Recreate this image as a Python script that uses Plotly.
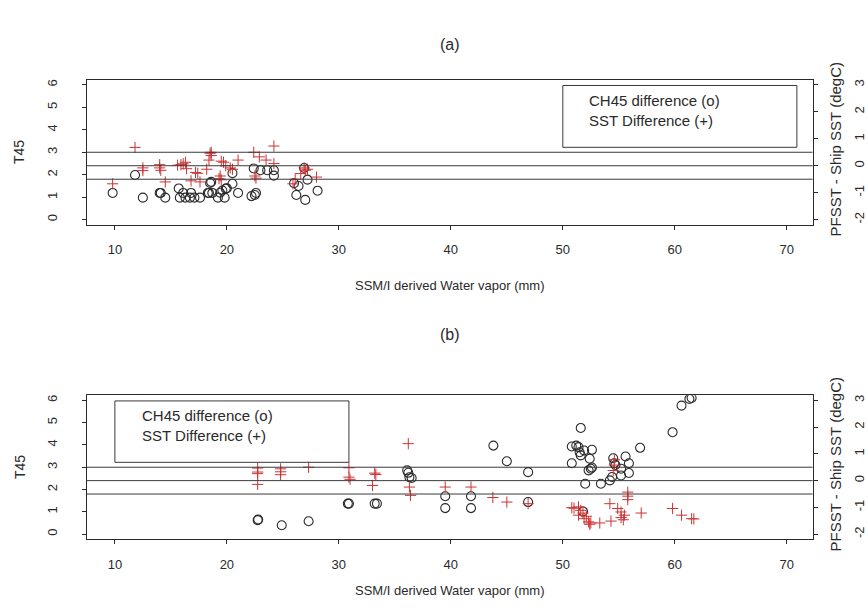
import plotly.graph_objects as go

# ---------------- data ----------------
# Panel (a)
a_ch45_wv = [9.8, 11.8, 12.5, 14.0, 14.1, 14.5, 15.7, 15.8, 16.1, 16.3, 16.7, 16.8, 17.1, 17.6,
             18.3, 18.4, 18.5, 18.6, 18.7, 19.2, 19.4, 19.6, 19.8, 19.9, 20.0, 20.5, 20.5, 21.0,
             22.2, 22.5, 22.6, 22.4, 23.0, 23.6, 24.2, 24.2, 26.0, 26.2, 26.4, 26.9, 27.0, 27.2, 28.1]
a_ch45_t45 = [1.19, 1.99, 0.98, 1.19, 1.19, 0.98, 1.39, 0.98, 1.19, 0.98, 0.98, 1.19, 0.98, 0.98,
              1.19, 1.19, 1.63, 1.68, 1.19, 0.98, 1.20, 1.30, 0.98, 1.38, 1.40, 2.07, 1.60, 1.19,
              1.05, 1.10, 1.19, 2.28, 2.20, 2.20, 2.20, 1.96, 1.62, 1.10, 1.50, 2.30, 0.88, 1.78, 1.29]
a_sst_wv = [9.8, 11.8, 12.5, 12.5, 14.0, 14.0, 14.1, 14.5, 15.6, 15.9, 16.1, 16.3, 16.4, 16.8,
            17.2, 17.4, 17.6, 18.2, 18.4, 18.5, 18.6, 18.6, 19.3, 19.4, 19.5, 19.5, 19.7, 19.9,
            20.3, 20.5, 21.0, 22.4, 22.5, 22.6, 22.9, 23.5, 24.2, 24.2, 25.9, 26.1, 26.6, 26.9,
            27.0, 27.2, 28.0]
a_sst_diff = [-0.67, 0.68, -0.18, -0.08, 0.04, -0.08, -0.17, -0.60, 0.02, 0.04, 0.07, 0.13, -0.11, -0.56,
              -0.25, -0.28, -0.60, -0.13, 0.21, 0.46, 0.50, 0.38, -0.48, -0.38, -0.52, 0.17, 0.13, 0.00,
              -0.08, -0.13, 0.21, 0.50, -0.38, -0.46, 0.33, 0.21, 0.73, 0.08, -0.67, -0.50, -0.29, -0.08,
              -0.17, -0.13, -0.42]

# Panel (b)
b_ch45_wv = [22.75, 22.8, 24.9, 27.3, 30.8, 30.9, 33.2, 33.4, 36.1, 36.2, 36.3, 36.5,
             39.5, 39.5, 41.8, 41.8, 43.8, 45.0, 46.9, 46.9,
             50.8, 51.2, 51.4, 51.6, 51.5, 51.9, 51.6, 52.4, 52.6, 50.8, 52.3, 52.5, 52.6,
             52.0, 53.4, 54.2, 54.4, 54.5, 54.6, 54.7, 55.2, 55.2, 55.6, 55.9, 55.9, 56.9,
             59.8, 60.6, 61.3, 61.5, 51.8]
b_ch45_t45 = [0.63, 0.66, 0.40, 0.58, 1.37, 1.37, 1.37, 1.37, 2.86, 2.75, 2.55, 2.52,
              1.70, 1.17, 1.70, 1.17, 3.97, 3.27, 2.78, 1.44,
              3.93, 3.97, 3.90, 4.76, 3.67, 3.75, 3.53, 3.38, 3.78, 3.18, 2.86, 2.93, 2.99,
              2.26, 2.26, 2.41, 2.56, 3.40, 3.18, 3.10, 2.63, 2.93, 3.48, 3.18, 2.74, 3.87,
              4.57, 5.76, 6.06, 6.10, 1.02]
b_sst_wv = [22.75, 22.75, 22.75, 22.75, 24.8, 24.8, 24.8, 27.3, 30.9, 30.9, 31.0,
            33.2, 33.3, 33.0, 36.2, 36.3, 36.4, 39.5, 41.8, 43.75, 45.0, 46.9,
            50.8, 51.0, 51.4, 51.6, 51.4, 51.8, 51.9, 52.1, 52.3, 52.4, 52.5, 53.3,
            54.2, 54.3, 54.6, 54.5, 54.6, 54.9, 55.2, 55.4, 55.5, 55.2,
            55.8, 55.8, 55.8, 57.0, 59.8, 60.6, 61.5, 61.7]
b_sst_diff = [0.47, 0.32, 0.26, -0.14, 0.44, 0.33, 0.22, 0.50, 0.48, 0.13, 0.05,
              0.28, 0.23, -0.18, 1.38, -0.24, -0.55, -0.24, -0.24, -0.63, -0.80, -0.86,
              -1.01, -1.03, -0.98, -1.11, -1.29, -1.21, -1.42, -1.33, -1.54, -1.63, -1.58, -1.58,
              -0.86, -1.51, 0.78, 0.38, 0.58, -1.04, -1.17, -1.46, -1.29, -1.38,
              -0.43, -0.58, -0.71, -1.21, -1.04, -1.29, -1.42, -1.43]

ref_lines = [-0.5, 0.0, 0.5]          # SST difference reference lines
x_ticks = [10, 20, 30, 40, 50, 60, 70]
t45_ticks = [0, 1, 2, 3, 4, 5, 6]
sst_ticks = [-2, -1, 0, 1, 2, 3]
sst_ticktext = ["-2", "-1", "0", "1", "2", "3"]
panel_titles = ["(a)", "(b)"]
legend_lines = ["CH45 difference (o)", "SST Difference (+)"]
legend_x = [50, 10]                    # legend box left edge (water vapor units)

# ---------------- layout helpers ----------------
W, H = 867, 608
FONT = "Liberation Sans, Arial, Helvetica, sans-serif"
INK = "#2a2a2a"
RED = "#cc3333"

def px(x):
    return x / W

def py(y):
    return 1 - y / H

XL, XR = 88, 823
panels = [dict(top=79, bottom=224, title_y=44, xlab_y=285),
          dict(top=395, bottom=539, title_y=334, xlab_y=590)]

y_range = [-0.22, 6.22]
y2_range = [-2 + v * 5 / 6 for v in y_range]
x_range = [7.5, 72.3]

fig = go.Figure()

series = [(a_ch45_wv, a_ch45_t45, a_sst_wv, a_sst_diff),
          (b_ch45_wv, b_ch45_t45, b_sst_wv, b_sst_diff)]

layout = dict(width=W, height=H, margin=dict(l=0, r=0, t=0, b=0),
              paper_bgcolor="white", plot_bgcolor="white", showlegend=False,
              font=dict(family=FONT, color=INK, size=13))
shapes = []
annotations = []

for i, (p, (cw, ct, sw, sd)) in enumerate(zip(panels, series)):
    xn = "x" if i == 0 else "x2"
    yl = "y" if i == 0 else "y3"
    yr = "y2" if i == 0 else "y4"
    xk = "xaxis" if i == 0 else "xaxis2"
    ylk = "yaxis" if i == 0 else "yaxis3"
    yrk = "yaxis2" if i == 0 else "yaxis4"
    ydom = [py(p["bottom"]), py(p["top"])]

    layout[xk] = dict(domain=[px(XL), px(XR)], anchor=yl, range=x_range,
                      tickvals=x_ticks, ticks="outside", ticklen=4, tickcolor=INK,
                      showline=True, linecolor=INK, linewidth=1, mirror=True,
                      showgrid=False, zeroline=False, ticklabelstandoff=9,
                      tickfont=dict(size=13, family=FONT, color=INK))
    layout[ylk] = dict(domain=ydom, anchor=xn, range=y_range, tickvals=t45_ticks,
                       ticks="outside", ticklen=4, tickcolor=INK, tickangle=-90,
                       showline=True, linecolor=INK, linewidth=1, mirror=True,
                       showgrid=False, zeroline=False, ticklabelstandoff=20,
                       tickfont=dict(size=13, family=FONT, color=INK))
    layout[yrk] = dict(domain=ydom, anchor=xn, overlaying=yl, side="right",
                       range=y2_range, tickvals=sst_ticks, ticktext=sst_ticktext,
                       ticks="outside", ticklen=4,
                       tickcolor=INK, tickangle=-90, showline=False, showgrid=False,
                       zeroline=False, ticklabelstandoff=31,
                       tickfont=dict(size=13, family=FONT, color=INK))

    for v in ref_lines:
        shapes.append(dict(type="line", xref=f"{xn} domain", yref=yr, x0=0, x1=1, y0=v, y1=v,
                           line=dict(color="#3a3a3a", width=1)))

    # legend box (R-style, text only)
    lx = legend_x[i]
    shapes.append(dict(type="rect", xref=xn, yref=yl, x0=lx, x1=lx + 20.9, y0=3.22, y1=5.97,
                       line=dict(color="#3a3a3a", width=1), fillcolor="rgba(0,0,0,0)"))
    for j, t in enumerate(legend_lines):
        annotations.append(dict(xref=xn, yref=yl, x=lx + 2.2, y=5.3 - j * 0.89, text=t,
                                showarrow=False, xanchor="left", yanchor="middle",
                                font=dict(size=15, family=FONT, color=INK)))

    fig.add_trace(go.Scatter(x=cw, y=ct, xaxis=xn, yaxis=yl, mode="markers",
                             marker=dict(symbol="circle-open", size=9, color=INK,
                                         line=dict(width=1.1, color=INK))))
    fig.add_trace(go.Scatter(x=sw, y=sd, xaxis=xn, yaxis=yr, mode="markers",
                             marker=dict(symbol="cross-thin-open", size=8, color=RED,
                                         line=dict(width=1, color=RED))))

    cy = (p["top"] + p["bottom"]) / 2
    annotations += [
        dict(xref="paper", yref="paper", x=px((XL + XR) / 2), y=py(p["title_y"]),
             xanchor="center", yanchor="middle",
             text=panel_titles[i], showarrow=False, font=dict(size=16, family=FONT, color=INK)),
        dict(xref="paper", yref="paper", x=px((XL + XR) / 2), y=py(p["xlab_y"]),
             xanchor="center", yanchor="middle",
             text="SSM/I derived Water vapor (mm)", showarrow=False,
             font=dict(size=13, family=FONT, color=INK)),
        dict(xref="paper", yref="paper", x=px(20), y=py(cy), text="T45", textangle=-90,
             xanchor="center", yanchor="middle",
             showarrow=False, font=dict(size=14, family=FONT, color=INK)),
        dict(xref="paper", yref="paper", x=px(846), y=py(cy - 3), text="PFSST - Ship SST (degC)",
             xanchor="center", yanchor="middle",
             textangle=-90, showarrow=False, font=dict(size=15, family=FONT, color=INK)),
    ]

layout["shapes"] = shapes
layout["annotations"] = annotations
fig.update_layout(**layout)
fig.write_html("out.html")
